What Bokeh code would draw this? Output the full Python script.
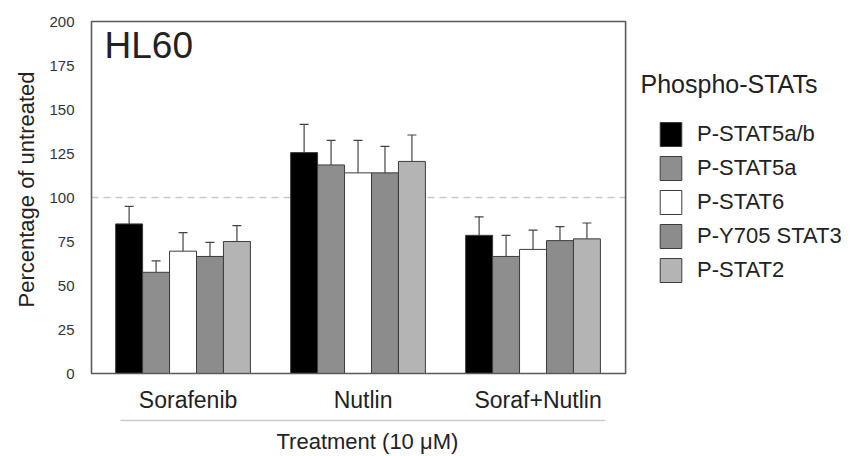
import math
from bokeh.plotting import figure
from bokeh.models import (Range1d, FixedTicker, LinearAxis, Label, Legend, Title,
                          LegendItem, Whisker, TeeHead, ColumnDataSource, BoxAnnotation)
from bokeh.embed import file_html
from bokeh.resources import INLINE

# ---- data ----
categories = ["Sorafenib", "Nutlin", "Soraf+Nutlin"]
series = ["P-STAT5a/b", "P-STAT5a", "P-STAT6", "P-Y705 STAT3", "P-STAT2"]
stat5ab = [85, 125.5, 78.5]
stat5a = [57.5, 118.5, 66.5]
stat6 = [69.5, 114, 70.5]
y705stat3 = [66.5, 114, 75.5]
stat2 = [75, 120.5, 76.5]
err_stat5ab = [10, 16, 10.5]
err_stat5a = [6.5, 14, 12]
err_stat6 = [10.5, 18.5, 11]
err_y705stat3 = [8, 15, 8]
err_stat2 = [9, 15, 9]
y_ticks = [0, 25, 50, 75, 100, 125, 150, 175, 200]
reference_level = 100

values = [stat5ab, stat5a, stat6, y705stat3, stat2]
errors = [err_stat5ab, err_stat5a, err_stat6, err_y705stat3, err_stat2]
colors = ["#000000", "#8e8e8e", "#ffffff", "#8c8c8c", "#b4b4b4"]

FONT = "Liberation Sans"
TXT = "#222222"

# visible plot box (data units) and a frame that extends to the right for the legend
X0, X1 = 0.477, 3.529
Y0, Y1 = 0, 200
PX = 175.0          # px per x unit
PY = 352.0 / 200    # px per y unit

p = figure(frame_width=762, frame_height=356,
           x_range=Range1d(X0 - 2 / PX, X0 + 760 / PX),
           y_range=Range1d(Y0 - 2 / PY, Y1 + 2 / PY),
           output_backend="svg", toolbar_location=None,
           min_border_left=89, min_border_right=0,
           min_border_top=19, min_border_bottom=81,
           x_axis_location=None, y_axis_location=None)
p.grid.visible = False
p.outline_line_color = None
p.background_fill_color = "white"
p.border_fill_color = "white"

# y axis
yax = LinearAxis(ticker=FixedTicker(ticks=y_ticks))
yax.axis_line_color = None
yax.major_tick_line_color = None
yax.minor_tick_line_color = None
yax.major_label_standoff = 9
yax.major_label_text_font = FONT
yax.major_label_text_font_size = "15px"
yax.major_label_text_color = "#333333"
p.add_layout(yax, "left")
p.add_layout(Title(text="Percentage of untreated", align="left", offset=68,
                   text_font=FONT, text_font_size="22px", text_font_style="normal",
                   text_color=TXT, standoff=16), "left")

# x axis (categories); labels sit slightly right of the group centres
label_shift = 0.029
cat_ticks = [round(i + 1 + label_shift, 3) for i in range(len(categories))]
xax = LinearAxis(ticker=FixedTicker(ticks=cat_ticks),
                 major_label_overrides={t: c for t, c in zip(cat_ticks, categories)})
xax.axis_line_color = None
xax.major_tick_line_color = None
xax.minor_tick_line_color = None
xax.major_label_standoff = 5
xax.major_label_text_font = FONT
xax.major_label_text_font_size = "23px"
xax.major_label_text_color = TXT
xax.axis_label = " "
xax.axis_label_text_font_size = "2px"
xax.axis_label_standoff = 0
p.add_layout(xax, "below")

# separator line
xax2 = LinearAxis(ticker=FixedTicker(ticks=[]), bounds=(0.643, 3.414))
xax2.axis_line_color = "#cccccc"
xax2.axis_line_width = 1.5
xax2.major_tick_line_color = None
xax2.minor_tick_line_color = None
xax2.major_label_text_font_size = "0px"
p.add_layout(xax2, "below")
# axis title
p.add_layout(Title(text="Treatment (10 \u03bcM)", align="left", offset=187,
                   text_font=FONT, text_font_size="22px", text_font_style="normal",
                   text_color=TXT, standoff=12), "below")

# reference line at 100 (under bars)
p.segment(x0=[X0], x1=[X1], y0=[reference_level], y1=[reference_level],
          line_color="#c8c8c8", line_dash="7 5", line_width=1.5)

bw = 0.154
items = []
for j, (name, vals, errs, col) in enumerate(zip(series, values, errors, colors)):
    xs = [i + 1 + (j - 2) * bw for i in range(len(categories))]
    src = ColumnDataSource(dict(x=xs, top=vals, up=[v + e for v, e in zip(vals, errs)]))
    r = p.vbar(x="x", top="top", width=bw, bottom=0, source=src,
               fill_color=col, line_color="#3c3c3c", line_width=1)
    items.append(LegendItem(label=name, renderers=[r]))
    p.add_layout(Whisker(source=src, base="x", upper="up", lower="top",
                         upper_head=TeeHead(size=9, line_color="#444444", line_width=1.2),
                         lower_head=None, line_color="#444444", line_width=1.2))

# visible plot box
p.add_layout(BoxAnnotation(left=X0, right=X1, bottom=Y0, top=Y1, fill_alpha=0,
                           line_color="#5a5a5a", line_alpha=1, line_width=1.6,
                           level="overlay"))

legend = Legend(items=items, location=(568, 90))
legend.glyph_width = 27
legend.glyph_height = 30
legend.spacing = 4
legend.label_standoff = 13
legend.label_text_font = FONT
legend.label_text_font_size = "22px"
legend.label_text_color = TXT
legend.padding = 0
legend.margin = 0
legend.border_line_color = None
legend.background_fill_alpha = 0
p.add_layout(legend, "center")

# texts
p.add_layout(Label(x=X0 + (640 - 91) / PX, y=(373 - 83) / PY, text="Phospho-STATs",
                   text_font=FONT, text_font_size="25px", text_color=TXT,
                   text_align="left", text_baseline="alphabetic"))
p.add_layout(Label(x=X0 + 13 / PX, y=(373 - 45) / PY, text="HL60", text_font=FONT,
                   text_font_size="37px", text_color=TXT, text_align="left",
                   text_baseline="alphabetic"))

open("out.html", "w").write(file_html(p, INLINE))
